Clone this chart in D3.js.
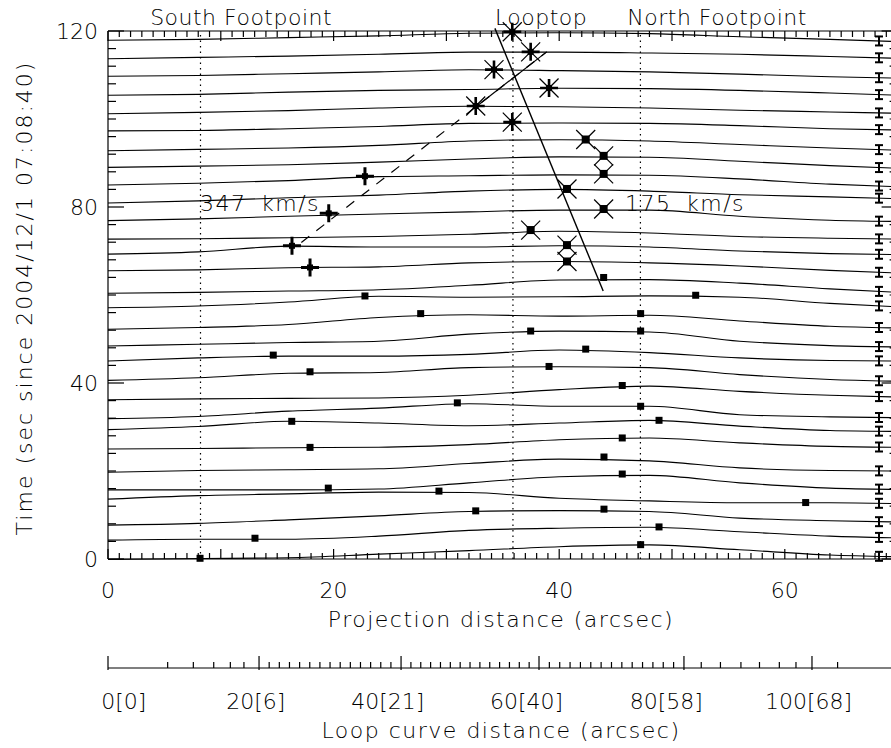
<!DOCTYPE html>
<html>
<head>
<meta charset="utf-8">
<script src="https://cdn.jsdelivr.net/npm/d3@7"></script>
<style>
body { margin: 0; background: #fff; }
text { font-family: "DejaVu Sans", sans-serif; font-weight: 200; fill: #000; }
</style>
</head>
<body>
<svg id="chart" width="891" height="748"></svg>
<script>
// knots along the loop, projection distance (arcsec)
var knotX = [0, 8, 16, 24, 32, 40, 48, 56, 64, 70];

// one row per frame: the shifted intensity profile, in time units (s), at each knot
var profiles = [
  [117.9,118.1,118.5,118.9,119.5,119.6,119.4,118.7,118.1,117.6],
  [113.7,114.0,114.3,114.7,115.2,115.2,115.0,114.7,114.2,113.8],
  [109.7,109.9,110.3,110.7,111.2,111.0,110.7,110.2,109.6,109.3],
  [105.4,105.6,106.1,106.5,106.7,107.0,106.9,106.5,105.9,105.4],
  [101.2,101.5,101.9,102.5,102.9,102.8,102.5,102.0,101.6,101.3],
  [97.3,97.4,97.8,98.3,99.0,99.1,99.0,98.5,97.8,97.5],
  [92.8,93.1,93.4,94.0,95.0,95.3,95.0,94.2,93.4,92.9],
  [89.0,89.3,89.6,90.2,90.9,91.4,91.3,90.4,89.4,88.8],
  [85.0,85.4,86.0,86.9,87.1,87.3,87.2,86.4,85.2,84.6],
  [80.9,81.4,82.1,82.7,83.6,84.0,83.6,82.8,82.3,81.9],
  [76.9,77.3,77.9,78.4,78.9,79.3,79.3,77.9,77.0,76.7],
  [72.7,72.8,73.0,73.3,73.8,74.5,74.1,73.3,72.9,72.7],
  [69.3,69.8,71.1,70.9,70.9,71.2,70.9,70.0,69.4,69.2],
  [65.5,65.7,66.2,66.4,67.3,67.6,67.3,66.6,65.6,65.0],
  [60.4,60.6,60.9,61.2,62.2,63.4,63.5,62.7,61.4,60.6],
  [57.1,57.5,58.4,59.7,59.5,59.6,59.8,59.5,58.1,57.3],
  [52.2,52.6,53.3,54.9,55.5,55.2,55.4,54.1,52.9,52.5],
  [48.4,48.8,49.2,49.5,51.1,51.8,51.6,49.5,48.5,48.2],
  [45.0,45.7,46.1,46.1,46.5,47.5,46.9,45.7,45.1,45.0],
  [40.6,41.2,42.2,42.4,43.5,43.7,43.5,41.9,40.8,40.4],
  [36.2,36.4,36.5,36.6,37.2,38.5,39.3,38.1,37.2,36.8],
  [31.9,32.4,33.6,34.3,35.3,34.7,34.7,32.8,32.3,32.1],
  [29.4,30.1,31.3,30.9,30.3,30.9,31.5,30.2,29.2,29.0],
  [25.0,25.1,25.3,25.4,26.0,27.1,27.5,26.4,25.6,25.4],
  [19.7,20.1,20.3,20.5,21.7,22.7,22.3,20.7,20.1,20.0],
  [15.7,15.7,15.7,15.9,17.3,18.7,19.0,17.3,16.1,15.8],
  [13.6,14.4,14.8,15.2,15.1,13.8,13.2,12.8,12.8,12.6],
  [7.7,8.1,8.9,9.8,10.8,11.0,10.8,9.3,8.7,8.4],
  [4.3,4.5,4.5,5.2,6.5,7.0,7.2,6.2,5.2,4.8],
  [-0.1,0.1,0.3,1.1,1.9,2.8,3.2,2.1,0.9,0.5]
];

// peak positions [distance, time]
var peaks = [
  [8.16,0.16],[47.22,3.26],[13.03,4.72],[48.85,7.29],[32.60,10.94],[43.97,11.33],
  [29.34,15.43],[61.85,12.83],[19.53,16.11],[45.59,19.31],[43.97,23.18],[17.91,25.37],
  [45.59,27.51],[16.29,31.29],[48.85,31.52],[30.97,35.49],[47.22,34.71],[45.59,39.43],
  [17.91,42.55],[39.10,43.76],[14.65,46.34],[42.35,47.70],[37.47,51.81],[47.22,51.81],
  [27.72,55.77],[47.22,55.77],[22.78,59.78],[52.10,59.94],[43.94,63.98]
];
var slowPeaks = [
  [42.35,95.34],[43.94,91.62],[43.94,87.52],[40.69,84.10],
  [43.94,79.54],[37.47,74.76],[40.69,71.34],[40.69,67.62]
];
var fastPeaks = [[22.78,87.0],[19.57,78.56],[16.31,71.18],[17.91,66.26]];
var topPeaks = [
  [35.84,119.82],[37.47,115.26],[34.22,111.23],[39.10,107.05],[32.60,102.95],[35.84,99.30]
];

var fastFit = [[17.14,71.95],[38.89,115.26]];
var fastSolidFrom = 32.6;
var slowFit = [[34.3,120.6],[43.9,60.9]];

var markLines = [8.2, 35.9, 47.2];
var markNames = ["South Footpoint", "Looptop", "North Footpoint"];
var markNameX = [11.8, 38.4, 54.0];

var errX = 68.35;

// second axis: loop curve distance and where it lands in projection distance
var loopMajor = [0, 20, 40, 60, 80, 100];
var loopProj = [0, 13.39, 25.98, 38.21, 51.06, 62.41];
var loopLabels = ["0[0]", "20[6]", "40[21]", "60[40]", "80[58]", "100[68]"];
var loopLabelX = [1.4, 13.1, 24.8, 37.1, 49.5, 62.1];
var loopMinor = [7.9, 11.3, 14.0, 16.2, 18.0, 82.7, 85.7, 88.9, 91.8, 94.9, 97.5, 104];
for (var s = 20; s < 80; s += 20) {
  for (var k = 1; k < 14; k++) loopMinor.push(s + k * 20 / 14);
}

var svg = d3.select("#chart");

var x = d3.scaleLinear().domain([0, 70]).range([108, 897.6]);
var y = d3.scaleLinear().domain([0, 120]).range([559, 31]);
var loopToProj = d3.scaleLinear().domain(loopMajor).range(loopProj);

var line = d3.line()
  .x(function(d) { return x(d[0]); })
  .y(function(d) { return y(d[1]); })
  .curve(d3.curveMonotoneX);

var plot = svg.append("g");

// stacked profiles
profiles.forEach(function(p) {
  plot.append("path")
    .attr("d", line(p.map(function(v, i) { return [knotX[i], v]; })))
    .attr("fill", "none").attr("stroke", "#000").attr("stroke-width", 1.1);
});

// footpoint / looptop dotted lines
markLines.forEach(function(m) {
  plot.append("line")
    .attr("x1", x(m)).attr("x2", x(m)).attr("y1", y(0)).attr("y2", y(120))
    .attr("stroke", "#000").attr("stroke-width", 1.2).attr("stroke-dasharray", "1.5,4");
});

// error bars at the right end
profiles.forEach(function(p) {
  var n = p.length;
  var f = (errX - knotX[n - 2]) / (knotX[n - 1] - knotX[n - 2]);
  var v = p[n - 2] + (p[n - 1] - p[n - 2]) * f;
  var cx = x(errX), cy = y(v);
  var g = plot.append("g").attr("stroke", "#000").attr("stroke-width", 2);
  g.append("line").attr("x1", cx).attr("x2", cx).attr("y1", cy - 4.5).attr("y2", cy + 4.5);
  g.append("line").attr("x1", cx - 4).attr("x2", cx + 4).attr("y1", cy - 4.5).attr("y2", cy - 4.5);
  g.append("line").attr("x1", cx - 4).attr("x2", cx + 4).attr("y1", cy + 4.5).attr("y2", cy + 4.5);
});

// fit lines
plot.append("path")
  .attr("d", d3.line().x(function(d) { return x(d[0]); }).y(function(d) { return y(d[1]); })(fastFit))
  .attr("fill", "none").attr("stroke", "#000").attr("stroke-width", 1.2).attr("stroke-dasharray", "10,9");
var slope = (fastFit[1][1] - fastFit[0][1]) / (fastFit[1][0] - fastFit[0][0]);
plot.append("line")
  .attr("x1", x(fastSolidFrom)).attr("y1", y(fastFit[0][1] + slope * (fastSolidFrom - fastFit[0][0])))
  .attr("x2", x(fastFit[1][0])).attr("y2", y(fastFit[1][1]))
  .attr("stroke", "#000").attr("stroke-width", 1.2);
plot.append("line")
  .attr("x1", x(slowFit[0][0])).attr("y1", y(slowFit[0][1]))
  .attr("x2", x(slowFit[1][0])).attr("y2", y(slowFit[1][1]))
  .attr("stroke", "#000").attr("stroke-width", 1.4);

function square(g, d, size) {
  g.append("rect")
    .attr("x", x(d[0]) - size / 2).attr("y", y(d[1]) - size / 2)
    .attr("width", size).attr("height", size).attr("fill", "#000");
}
function xArms(g, d, r, w) {
  var cx = x(d[0]), cy = y(d[1]);
  g.append("path")
    .attr("d", "M" + (cx - r) + "," + (cy - r) + "L" + (cx + r) + "," + (cy + r) +
               "M" + (cx - r) + "," + (cy + r) + "L" + (cx + r) + "," + (cy - r))
    .attr("stroke", "#000").attr("stroke-width", w);
}
function plusArms(g, d, r, w) {
  var cx = x(d[0]), cy = y(d[1]);
  g.append("path")
    .attr("d", "M" + (cx - r) + "," + cy + "L" + (cx + r) + "," + cy +
               "M" + cx + "," + (cy - r) + "L" + cx + "," + (cy + r))
    .attr("stroke", "#000").attr("stroke-width", w);
}

var marks = svg.append("g");
peaks.forEach(function(d) { square(marks, d, 7); });
slowPeaks.forEach(function(d) { square(marks, d, 8); xArms(marks, d, 9.5, 1.2); });
fastPeaks.forEach(function(d) { square(marks, d, 6); plusArms(marks, d, 9, 3); });
topPeaks.forEach(function(d) { square(marks, d, 6); xArms(marks, d, 9.5, 1.2); plusArms(marks, d, 9, 2.6); });

// axes box
var ax = svg.append("g").attr("stroke", "#000").attr("stroke-width", 1.2);
ax.append("line").attr("x1", x(0)).attr("x2", x(70)).attr("y1", y(0)).attr("y2", y(0));
ax.append("line").attr("x1", x(0)).attr("x2", x(70)).attr("y1", y(120)).attr("y2", y(120));
ax.append("line").attr("x1", x(0)).attr("x2", x(0)).attr("y1", y(0)).attr("y2", y(120));
ax.append("line").attr("x1", x(70)).attr("x2", x(70)).attr("y1", y(0)).attr("y2", y(120));

d3.range(0, 71, 1).forEach(function(v) {
  var len = v % 10 === 0 ? 10 : 6;
  ax.append("line").attr("x1", x(v)).attr("x2", x(v)).attr("y1", y(0)).attr("y2", y(0) - len);
  ax.append("line").attr("x1", x(v)).attr("x2", x(v)).attr("y1", y(120)).attr("y2", y(120) + len);
});
d3.range(0, 121, 4).forEach(function(v) {
  var len = v % 40 === 0 ? 16 : 8;
  ax.append("line").attr("x1", x(0)).attr("x2", x(0) + len).attr("y1", y(v)).attr("y2", y(v));
  ax.append("line").attr("x1", x(70)).attr("x2", x(70) - len).attr("y1", y(v)).attr("y2", y(v));
});

var txt = svg.append("g").attr("font-size", 22);
[0, 20, 40, 60].forEach(function(v) {
  txt.append("text").attr("x", x(v)).attr("y", 598).attr("text-anchor", "middle").text(v);
});
[0, 40, 80, 120].forEach(function(v) {
  txt.append("text").attr("x", 98).attr("y", y(v) + 8).attr("text-anchor", "end").text(v);
});
txt.append("text").attr("x", 501).attr("y", 627).attr("text-anchor", "middle")
  .attr("letter-spacing", 1.5).text("Projection distance (arcsec)");
txt.append("text").attr("transform", "translate(32,298) rotate(-90)").attr("text-anchor", "middle")
  .attr("letter-spacing", 2).text("Time (sec since 2004/12/1 07:08:40)");

markNames.forEach(function(n, i) {
  txt.append("text").attr("x", x(markNameX[i])).attr("y", 25).attr("text-anchor", "middle")
    .attr("letter-spacing", 0.5).text(n);
});
txt.append("text").attr("x", 200).attr("y", 211).attr("letter-spacing", 1.5).attr("word-spacing", 6).text("347 km/s");
txt.append("text").attr("x", 625).attr("y", 211).attr("letter-spacing", 1.5).attr("word-spacing", 6).text("175 km/s");

// loop curve distance axis
var la = svg.append("g").attr("stroke", "#000").attr("stroke-width", 1.2);
var laY = 668;
la.append("line").attr("x1", x(0)).attr("x2", 891).attr("y1", laY).attr("y2", laY);
loopMajor.forEach(function(v) {
  var px = x(loopToProj(v));
  la.append("line").attr("x1", px).attr("x2", px).attr("y1", laY + 2).attr("y2", laY - 12);
});
loopMinor.forEach(function(v) {
  var px = x(loopToProj(v));
  la.append("line").attr("x1", px).attr("x2", px).attr("y1", laY).attr("y2", laY - 6);
});
loopLabels.forEach(function(l, i) {
  txt.append("text").attr("x", x(loopLabelX[i])).attr("y", 709).attr("text-anchor", "middle").text(l);
});
txt.append("text").attr("x", 501).attr("y", 738).attr("text-anchor", "middle")
  .attr("letter-spacing", 1.5).text("Loop curve distance (arcsec)");
</script>
</body>
</html>
